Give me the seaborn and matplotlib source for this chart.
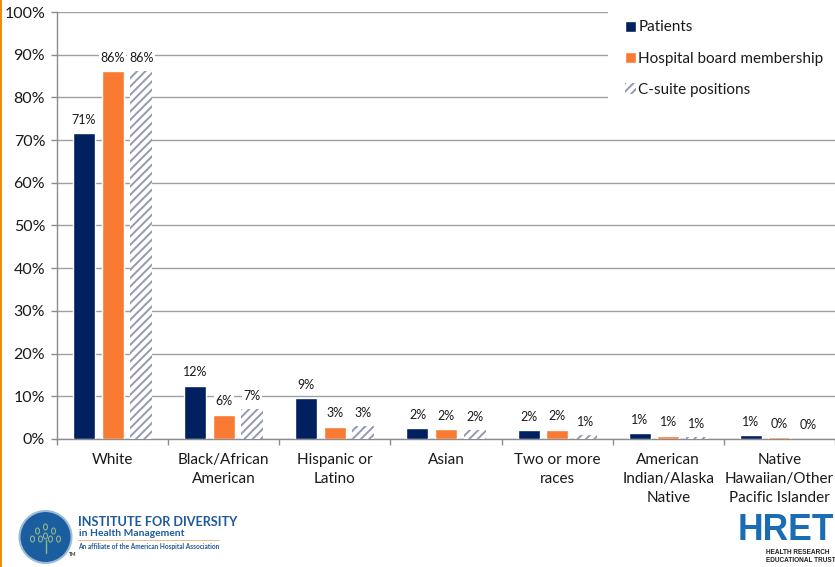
import matplotlib
matplotlib.use("Agg")
import matplotlib.pyplot as plt
from matplotlib.patches import Circle, Rectangle, Ellipse
import pandas as pd
import seaborn as sns

categories = ["White", "Black/African\nAmerican", "Hispanic or\nLatino", "Asian",
              "Two or more\nraces", "American\nIndian/Alaska\nNative",
              "Native\nHawaiian/Other\nPacific Islander"]
series_names = ["Patients", "Hospital board membership", "C-suite positions"]
patients = [71.7, 12.5, 9.5, 2.5, 2.1, 1.4, 0.9]
board = [86.2, 5.7, 2.9, 2.4, 2.2, 0.8, 0.5]
csuite = [86.2, 7.0, 3.1, 2.0, 1.0, 0.4, 0.1]
patients_labels = ["71%", "12%", "9%", "2%", "2%", "1%", "1%"]
board_labels = ["86%", "6%", "3%", "2%", "2%", "1%", "0%"]
csuite_labels = ["86%", "7%", "3%", "2%", "1%", "1%", "0%"]
y_ticks = list(range(0, 101, 10))

W, H = 835, 567
sns.set_theme(style="white")
plt.rcParams["font.family"] = ["Lato", "DejaVu Sans"]
plt.rcParams["hatch.linewidth"] = 1.4

df = pd.DataFrame({
    "category": categories * 3,
    "series": sum([[s] * len(categories) for s in series_names], []),
    "value": patients + board + csuite,
})

fig = plt.figure(figsize=(W / 100, H / 100), dpi=100, facecolor="white")
ax = fig.add_axes([57 / W, (H - 439) / H, (W - 57) / W, 427 / H])
NAVY, ORANGE, SLATE = "#002060", "#F97B33", "#9499B5"
sns.barplot(data=df, x="category", y="value", hue="series", hue_order=series_names,
            order=categories, palette=[NAVY, ORANGE, "white"], width=0.77, gap=0.23,
            saturation=1, ax=ax, zorder=3, legend=False)

for bar in ax.containers[2]:
    bar.set_hatch("////")
    bar.set_edgecolor(SLATE)
    bar.set_linewidth(0)

for cont, labels in zip(ax.containers, [patients_labels, board_labels, csuite_labels]):
    for bar, lab in zip(cont, labels):
        ax.annotate(lab, (bar.get_x() + bar.get_width() / 2, bar.get_height()),
                    xytext=(0, 9.5), textcoords="offset points", ha="center", va="center",
                    fontsize=9, color="#1a1a1a", zorder=5,
                    bbox=dict(facecolor="white", edgecolor="none", pad=1.2))

ax.set_xlim(-0.5, len(categories) - 0.5)
ax.set_ylim(0, 100)
ax.set_yticks(y_ticks)
ax.set_yticklabels([f"{v}%" for v in y_ticks], fontsize=11.5, color="#1a1a1a")
ax.set_xlabel("")
ax.set_ylabel("")
ax.set_xticks(range(len(categories)))
ax.set_xticklabels(categories, fontsize=11, color="#1a1a1a", linespacing=1.45)
ax.set_xticks([i - 0.5 for i in range(len(categories) + 1)], minor=True)
ax.tick_params(axis="x", which="major", length=0, pad=10)
ax.tick_params(axis="x", which="minor", length=4, width=1, color="#8c8c8c", direction="out", bottom=True)
ax.tick_params(axis="y", which="major", length=4, width=1, color="#8c8c8c", direction="out", left=True, pad=4.5)
ax.grid(axis="y", color="#a0a0a0", linewidth=1, zorder=0)
ax.set_axisbelow(True)
for s in ["top", "right"]:
    ax.spines[s].set_visible(False)
for s in ["left", "bottom"]:
    ax.spines[s].set_color("#8c8c8c")
    ax.spines[s].set_linewidth(1)

# white panel behind the legend hides the gridlines from x=608 rightwards
ax.add_patch(Rectangle(((608 - 57) / (W - 57), 1 - 90 / 427), (W - 608) / (W - 57), 92 / 427,
                       transform=ax.transAxes, facecolor="white", edgecolor="none",
                       clip_on=False, zorder=2))

handles = [ax.containers[0][0], ax.containers[1][0], ax.containers[2][0]]
leg = ax.legend(handles, series_names, loc="upper left",
                bbox_to_anchor=((617 - 57) / (W - 57), 1.0), frameon=False,
                fontsize=11, handlelength=0.72, handleheight=0.72, handletextpad=0.12,
                labelspacing=1.12, borderpad=0.55, borderaxespad=0, labelcolor="#1a1a1a")
leg.set_zorder(6)

# overlay in pixel space: left rule and logos
ov = fig.add_axes([0, 0, 1, 1], facecolor="none")
ov.set_xlim(0, W)
ov.set_ylim(H, 0)
ov.axis("off")
ov.add_patch(Rectangle((0, 0), 2, H, color="#E8900C", lw=0))
ov.add_patch(Circle((45.5, 537), 26, facecolor="#1A5EA0", edgecolor="#9DBBD6", lw=1.5))
for dx, dy in [(0, -9), (-8, -5), (8, -5), (-13, 3), (13, 3), (-5, 3), (5, 3), (0, 0)]:
    ov.add_patch(Ellipse((45.5 + dx, 536 + dy), 4, 6, facecolor="none", edgecolor="#8FB58A", lw=0.8))
ov.plot([45.5, 45.5], [540, 553], color="#8FB58A", lw=1)
ov.text(78, 522, "INSTITUTE FOR DIVERSITY", color="#1F5A99", fontsize=9.1, fontweight="bold", va="center")
ov.text(79, 533, "in Health Management", color="#1F5A99", fontsize=7.4, fontweight="bold", va="center")
ov.plot([78, 219], [540, 540], color="#F0B070", lw=0.6)
ov.text(78, 546, "An affiliate of the American Hospital Association", color="#1F5A99", fontsize=4.7,
        fontweight="bold", va="center")
ov.text(69, 555, "TM", color="#333333", fontsize=3.6, fontweight="bold", va="center")
ov.text(738, 530, "HRET", color="#1A6DB5", fontsize=25.6, fontweight="bold", va="center",
        family="Liberation Sans")
ov.text(766, 552, "HEALTH RESEARCH", color="#222222", fontsize=4.7, fontweight="bold", va="center",
        family="Liberation Sans")
ov.text(766, 560, "EDUCATIONAL TRUST", color="#222222", fontsize=4.7, fontweight="bold", va="center",
        family="Liberation Sans")

fig.savefig("out.png", dpi=100, facecolor="white")
